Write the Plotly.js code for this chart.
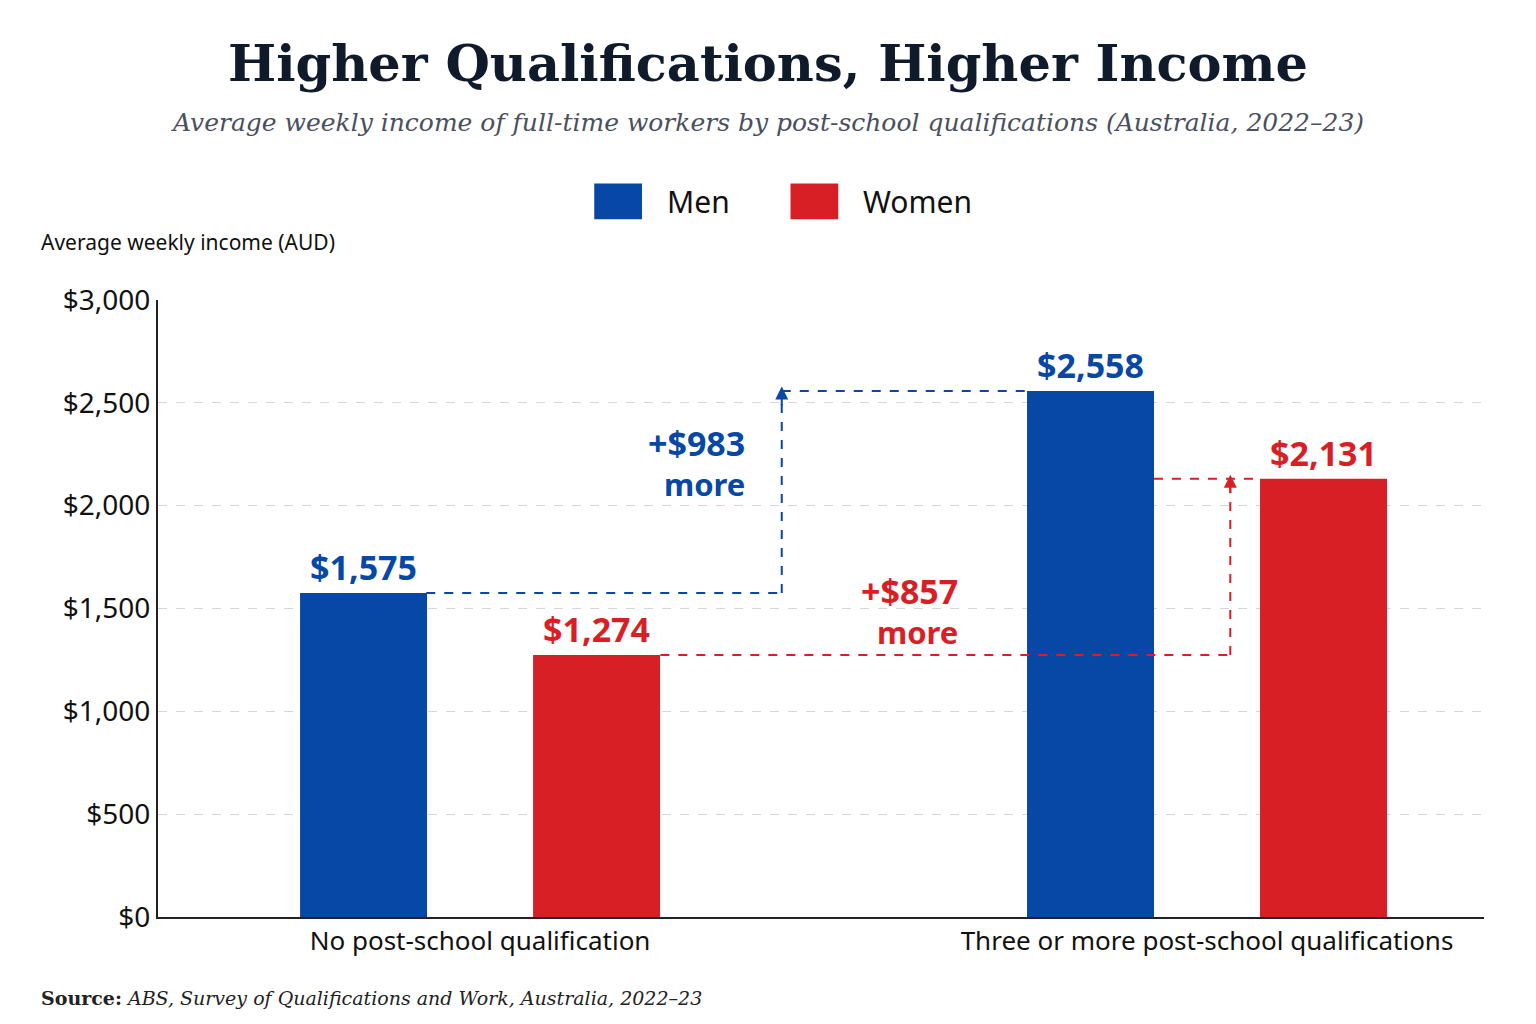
<!DOCTYPE html>
<html>
<head>
<meta charset="utf-8">
<script src="https://cdn.plot.ly/plotly-3.0.1.min.js"></script>
<style>body{margin:0;background:#fff}#chart{width:1536px;height:1024px}</style>
</head>
<body>
<div id="chart"></div>
<script>
var categories = ['No post-school qualification', 'Three or more post-school qualifications'];
var men = [1575, 2558];
var women = [1274, 2131];
var yTicks = [0, 500, 1000, 1500, 2000, 2500, 3000];
var yTickText = ['$0', '$500', '$1,000', '$1,500', '$2,000', '$2,500', '$3,000'];

var blue = '#0747a6', red = '#d91f26';
var fmt = function (v) { return '$' + v.toLocaleString('en-US'); };

var trace1 = {
  x: [0, 1], y: men, name: 'Men', type: 'bar',
  marker: {color: blue},
  text: men.map(fmt), textposition: 'outside', cliponaxis: false,
  textfont: {family: 'Noto Sans', size: 34, color: blue, weight: 'bold'}
};
var trace2 = {
  x: [0, 1], y: women, name: 'Women', type: 'bar',
  marker: {color: red},
  text: women.map(fmt), textposition: 'outside', cliponaxis: false,
  textfont: {family: 'Noto Sans', size: 34, color: red, weight: 'bold'}
};

var dash = function (x0, y0, x1, y1, c) {
  return {type: 'line', xref: 'x', yref: 'y', x0: x0, y0: y0, x1: x1, y1: y1,
    line: {color: c, width: 2, dash: 'dash'}};
};
var box = function (x0, x1, c) {
  return {type: 'rect', xref: 'paper', yref: 'paper', x0: x0, x1: x1, y0: 1.131, y1: 1.189,
    fillcolor: c, line: {width: 0}};
};

var layout = {
  width: 1536, height: 1024,
  margin: {l: 158, r: 52, t: 300, b: 107},
  barmode: 'group', bargap: 0.359, bargroupgap: 0.455,
  font: {family: 'Noto Sans', color: '#111'},
  plot_bgcolor: '#fff', paper_bgcolor: '#fff',
  showlegend: false,
  title: {text: '<b>Higher Qualifications, Higher Income</b>', x: 0.5, xanchor: 'center',
    yref: 'container', y: 0.938, yanchor: 'middle',
    font: {family: 'DejaVu Serif', size: 51, color: '#0f1a2b'}},
  xaxis: {range: [-0.443, 1.381], tickvals: [0, 1], ticktext: categories, showline: true,
    linecolor: '#222', linewidth: 2, ticks: '', tickfont: {size: 26}},
  yaxis: {range: [0, 3000], tickvals: yTicks, ticktext: yTickText, showline: true,
    linecolor: '#222', linewidth: 2, gridcolor: '#d6d6d6', griddash: 'dash', zeroline: false,
    tickfont: {size: 28}, ticklen: 0, ticks: ''},
  shapes: [
    dash(-0.074, 1575, 0.415, 1575, blue),
    dash(0.415, 1575, 0.415, 2540, blue),
    dash(0.415, 2558, 0.752, 2558, blue),
    dash(0.248, 1274, 1.032, 1274, red),
    dash(1.032, 1274, 1.032, 2110, red),
    dash(0.927, 2131, 1.073, 2131, red),
    box(0.329, 0.365, blue),
    box(0.477, 0.513, red)
  ],
  annotations: [
    {text: '<i>Average weekly income of full-time workers by post-school qualifications (Australia, 2022–23)</i>',
      xref: 'paper', yref: 'paper', x: 0.46, y: 1.288, xanchor: 'center', yanchor: 'middle', showarrow: false,
      font: {family: 'DejaVu Serif', size: 25, color: '#4a5060'}},
    {text: 'Men', xref: 'paper', yref: 'paper', x: 0.382, y: 1.16, xanchor: 'left', yanchor: 'middle',
      showarrow: false, font: {size: 30, color: '#111'}},
    {text: 'Women', xref: 'paper', yref: 'paper', x: 0.530, y: 1.16, xanchor: 'left', yanchor: 'middle',
      showarrow: false, font: {size: 30, color: '#111'}},
    {text: 'Average weekly income (AUD)', xref: 'paper', yref: 'paper', x: -0.09, y: 1.094,
      xanchor: 'left', yanchor: 'middle', showarrow: false, font: {size: 21, color: '#111'}},
    {text: '<b>Source:</b> <i>ABS, Survey of Qualifications and Work, Australia, 2022–23</i>',
      xref: 'paper', yref: 'paper', x: -0.09, y: -0.131, xanchor: 'left', yanchor: 'middle', showarrow: false,
      font: {family: 'DejaVu Serif', size: 19, color: '#222'}},
    {x: 0.415, y: 2580, ax: 0, ay: 20, xref: 'x', yref: 'y', text: '', showarrow: true,
      arrowhead: 2, arrowsize: 1.3, arrowwidth: 2, arrowcolor: blue},
    {x: 1.032, y: 2150, ax: 0, ay: 20, xref: 'x', yref: 'y', text: '', showarrow: true,
      arrowhead: 2, arrowsize: 1.3, arrowwidth: 2, arrowcolor: red},
    {x: 0.367, y: 2212, xref: 'x', yref: 'y', xanchor: 'right', yanchor: 'middle', showarrow: false, align: 'right',
      text: '<b><span style="font-size:34px">+$983</span><br>more</b>', font: {size: 31, color: blue}},
    {x: 0.660, y: 1490, xref: 'x', yref: 'y', xanchor: 'right', yanchor: 'middle', showarrow: false, align: 'right',
      text: '<b><span style="font-size:34px">+$857</span><br>more</b>', font: {size: 31, color: red}}
  ]
};

Plotly.newPlot('chart', [trace1, trace2], layout, {displayModeBar: false});
</script>
</body>
</html>
